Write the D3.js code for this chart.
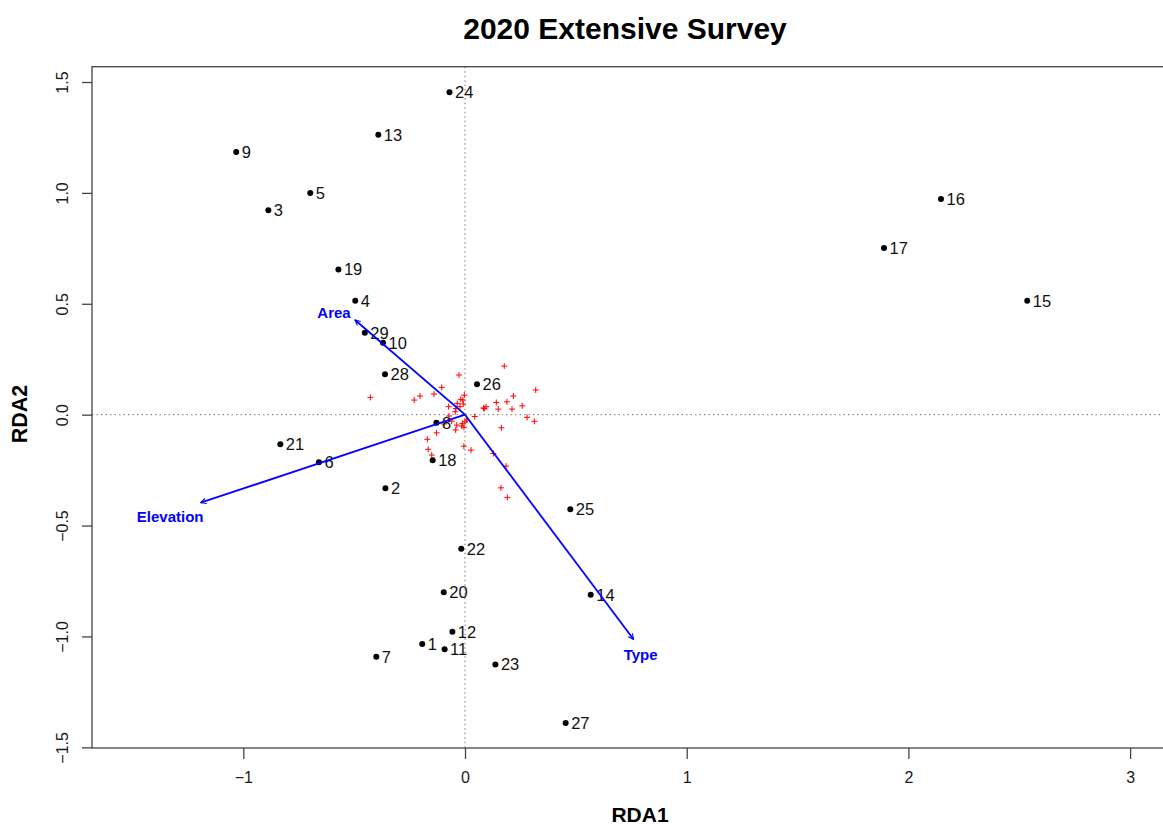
<!DOCTYPE html>
<html>
<head>
<meta charset="utf-8">
<script src="https://cdn.jsdelivr.net/npm/d3@7"></script>
<style>
  html, body { margin: 0; padding: 0; background: #fff; }
  svg { display: block; font-family: "Liberation Sans", Arial, Helvetica, sans-serif; }
</style>
</head>
<body>
<svg id="chart" width="1163" height="827"></svg>
<script>
// Site scores (RDA1, RDA2) with their site numbers
const siteIds = [1, 2, 3, 4, 5, 6, 7, 8, 9, 10, 11, 12, 13, 14, 15, 16, 17, 18, 19, 20, 21, 22, 23, 24, 25, 26, 27, 28, 29];
const siteRDA1 = [-0.193, -0.359, -0.887, -0.495, -0.698, -0.659, -0.400, -0.129, -1.032, -0.370,
                  -0.092, -0.057, -0.391, 0.567, 2.536, 2.147, 1.890, -0.146, -0.571, -0.096,
                  -0.833, -0.017, 0.137, -0.070, 0.475, 0.054, 0.454, -0.361, -0.452];
const siteRDA2 = [-1.034, -0.332, 0.922, 0.514, 0.999, -0.214, -1.092, -0.037, 1.184, 0.324,
                  -1.058, -0.979, 1.262, -0.812, 0.514, 0.972, 0.751, -0.206, 0.655, -0.801,
                  -0.133, -0.605, -1.126, 1.454, -0.426, 0.137, -1.390, 0.182, 0.369];

// Species scores (drawn as red crosses)
const speciesRDA1 = [0.177, -0.027, 0.319, -0.427, -0.105, -0.203, -0.229, -0.140, 0.218, 0.189,
                     0.141, 0.258, 0.212, 0.150, 0.095, 0.087, 0.083, 0.280, 0.313, 0.164,
                     0.044, -0.003, -0.010, -0.019, -0.035, -0.008, -0.023, -0.041, -0.074, -0.044,
                     -0.072, -0.060, -0.037, -0.012, 0.000, 0.008, -0.015, -0.005, -0.042, -0.095,
                     -0.128, -0.170, -0.166, -0.150, -0.005, 0.027, 0.128, 0.185, 0.162, 0.191];
const speciesRDA2 = [0.219, 0.179, 0.111, 0.078, 0.123, 0.084, 0.066, 0.093, 0.084, 0.058,
                     0.055, 0.040, 0.025, 0.025, 0.036, 0.027, 0.030, -0.012, -0.030, -0.059,
                     -0.008, 0.088, 0.066, 0.069, 0.051, 0.048, 0.036, 0.028, 0.036, 0.013,
                     -0.006, -0.029, -0.047, -0.039, -0.032, -0.024, -0.051, -0.057, -0.069, -0.042,
                     -0.082, -0.111, -0.156, -0.182, -0.142, -0.160, -0.175, -0.232, -0.330, -0.373];

// Environmental biplot vectors
const envNames = ["Area", "Elevation", "Type"];
const envRDA1 = [-0.496, -1.192, 0.760];
const envRDA2 = [0.427, -0.397, -1.013];
// Label anchor positions for the vectors (in score units)
const envLabelRDA1 = [-0.591, -1.330, 0.792];
const envLabelRDA2 = [0.460, -0.461, -1.084];

const xTicks = [-1, 0, 1, 2, 3];
const yTicks = [-1.5, -1.0, -0.5, 0.0, 0.5, 1.0, 1.5];

const svg = d3.select("#chart");
const box = { left: 92, right: 1175, top: 66.7, bottom: 748 };

const x = d3.scaleLinear().domain([-1.6825, 3.2025]).range([box.left, box.right]);
const y = d3.scaleLinear().domain([-1.503, 1.569]).range([box.bottom, box.top]);

const defs = svg.append("defs");
defs.append("clipPath").attr("id", "plotclip")
  .append("rect")
  .attr("x", box.left).attr("y", box.top)
  .attr("width", box.right - box.left).attr("height", box.bottom - box.top);

defs.append("marker")
  .attr("id", "arrowhead")
  .attr("viewBox", "-10 -6 12 12")
  .attr("refX", 0).attr("refY", 0)
  .attr("markerWidth", 8).attr("markerHeight", 8)
  .attr("markerUnits", "userSpaceOnUse")
  .attr("orient", "auto")
  .append("path")
  .attr("d", "M-8,-4 L0,0 L-8,4")
  .attr("fill", "none")
  .attr("stroke", "#0000ff")
  .attr("stroke-width", 1.6);

// Title
svg.append("text")
  .attr("x", 625).attr("y", 39)
  .attr("text-anchor", "middle")
  .attr("font-size", 30).attr("font-weight", "bold")
  .attr("fill", "#000")
  .text("2020 Extensive Survey");

const plot = svg.append("g").attr("clip-path", "url(#plotclip)");

// Zero reference lines
plot.append("line")
  .attr("x1", x(0)).attr("x2", x(0))
  .attr("y1", box.top).attr("y2", box.bottom)
  .attr("stroke", "#777").attr("stroke-width", 1).attr("stroke-dasharray", "1.5,3");
plot.append("line")
  .attr("x1", box.left).attr("x2", box.right)
  .attr("y1", y(0)).attr("y2", y(0))
  .attr("stroke", "#777").attr("stroke-width", 1).attr("stroke-dasharray", "1.5,3");

// Species crosses
const species = speciesRDA1.map((v, i) => ({ x: v, y: speciesRDA2[i] }));
plot.selectAll("path.species")
  .data(species)
  .enter().append("path")
  .attr("class", "species")
  .attr("d", d => {
    const cx = x(d.x), cy = y(d.y), s = 3;
    return `M${cx - s},${cy}H${cx + s}M${cx},${cy - s}V${cy + s}`;
  })
  .attr("stroke", "#ff0000").attr("stroke-width", 1);

// Sites: points and labels
const sites = siteIds.map((id, i) => ({ id, x: siteRDA1[i], y: siteRDA2[i] }));
plot.selectAll("circle.site")
  .data(sites)
  .enter().append("circle")
  .attr("class", "site")
  .attr("cx", d => x(d.x)).attr("cy", d => y(d.y))
  .attr("r", 3)
  .attr("fill", "#000");
plot.selectAll("text.site")
  .data(sites)
  .enter().append("text")
  .attr("class", "site")
  .attr("x", d => x(d.x) + 5.5)
  .attr("y", d => y(d.y))
  .attr("dy", "0.36em")
  .attr("font-size", 16.5)
  .attr("fill", "#111")
  .text(d => d.id);

// Environmental arrows and labels
const env = envNames.map((n, i) => ({
  name: n, x: envRDA1[i], y: envRDA2[i], lx: envLabelRDA1[i], ly: envLabelRDA2[i]
}));
plot.selectAll("line.env")
  .data(env)
  .enter().append("line")
  .attr("class", "env")
  .attr("x1", x(0)).attr("y1", y(0))
  .attr("x2", d => x(d.x)).attr("y2", d => y(d.y))
  .attr("stroke", "#0000ff").attr("stroke-width", 1.8)
  .attr("marker-end", "url(#arrowhead)");
plot.selectAll("text.env")
  .data(env)
  .enter().append("text")
  .attr("class", "env")
  .attr("x", d => x(d.lx)).attr("y", d => y(d.ly))
  .attr("dy", "0.36em")
  .attr("text-anchor", "middle")
  .attr("font-size", 15).attr("font-weight", "bold")
  .attr("fill", "#0000ff")
  .text(d => d.name);

// Plot frame
svg.append("rect")
  .attr("x", box.left).attr("y", box.top)
  .attr("width", box.right - box.left).attr("height", box.bottom - box.top)
  .attr("fill", "none").attr("stroke", "#444").attr("stroke-width", 1.3);

// Bottom axis
const xAxis = d3.axisBottom(x).tickValues(xTicks).tickSize(11).tickSizeOuter(0).tickPadding(13)
  .tickFormat(d3.format("d"));
const gx = svg.append("g").attr("transform", `translate(0,${box.bottom})`).call(xAxis);
gx.select(".domain").remove();
gx.selectAll(".tick line").attr("stroke", "#444").attr("stroke-width", 1.3);
gx.selectAll(".tick text")
  .attr("font-size", 16).attr("fill", "#1a1a1a")
  .attr("font-family", "Liberation Sans, Arial, sans-serif");

// Left axis with rotated labels
const yAxis = d3.axisLeft(y).tickValues(yTicks).tickSize(10).tickSizeOuter(0)
  .tickFormat(d3.format(".1f"));
const gy = svg.append("g").attr("transform", `translate(${box.left},0)`).call(yAxis);
gy.select(".domain").remove();
gy.selectAll(".tick line").attr("stroke", "#444").attr("stroke-width", 1.3);
gy.selectAll(".tick text")
  .attr("x", null).attr("dy", null)
  .attr("transform", "translate(-30,0) rotate(-90)")
  .attr("text-anchor", "middle")
  .attr("dominant-baseline", "central")
  .attr("font-size", 16).attr("fill", "#1a1a1a")
  .attr("font-family", "Liberation Sans, Arial, sans-serif");

// Axis titles
svg.append("text")
  .attr("x", 640).attr("y", 822)
  .attr("text-anchor", "middle")
  .attr("font-size", 21).attr("font-weight", "bold")
  .text("RDA1");
svg.append("text")
  .attr("transform", "translate(27,414) rotate(-90)")
  .attr("text-anchor", "middle")
  .attr("font-size", 21.5).attr("font-weight", "bold")
  .text("RDA2");
</script>
</body>
</html>
